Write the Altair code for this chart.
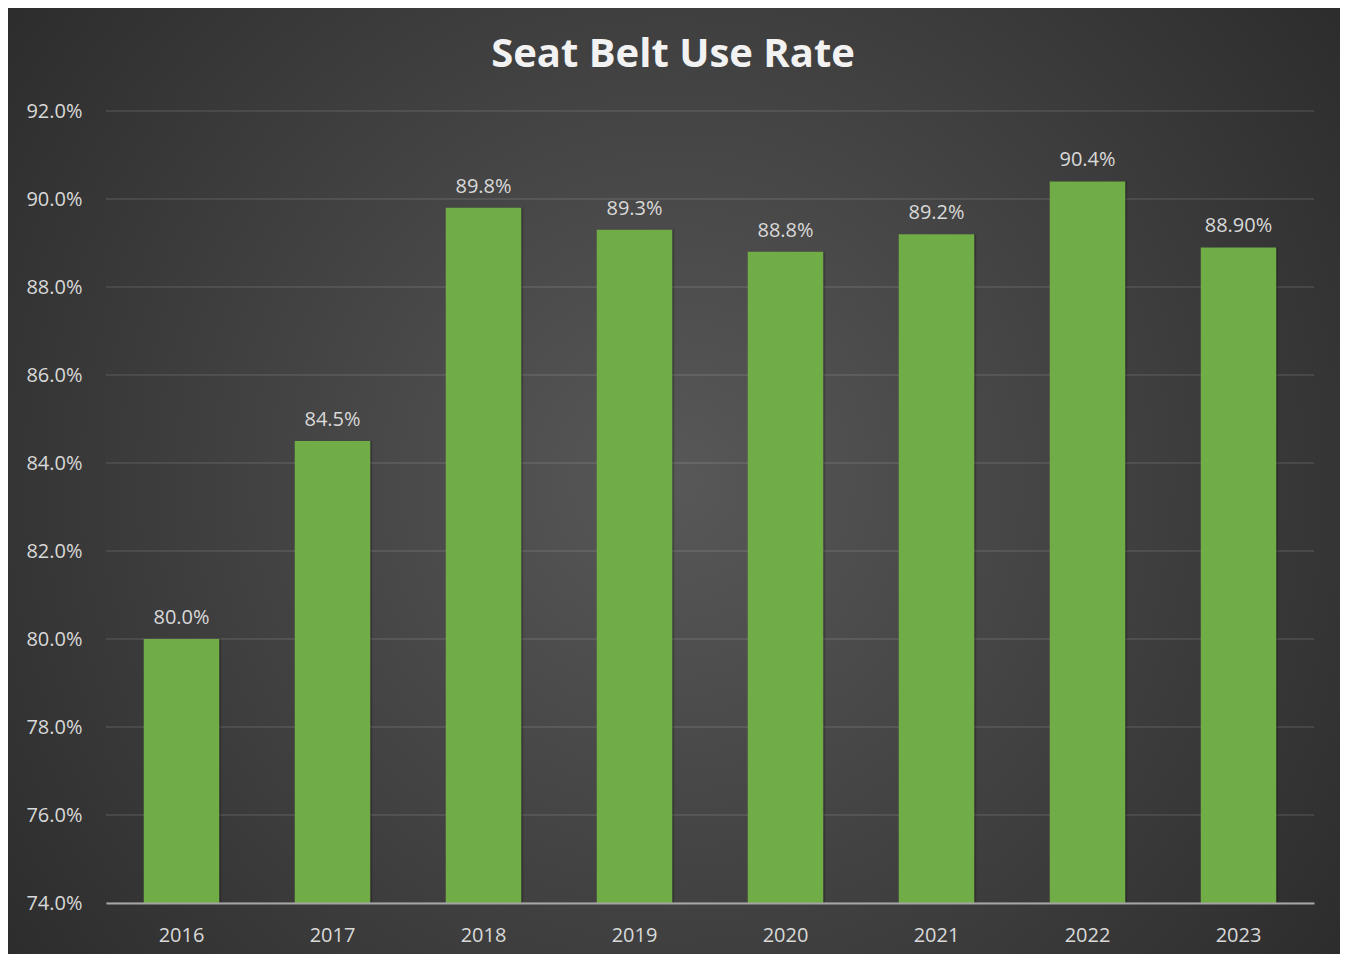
import altair as alt
import pandas as pd

years = ["2016", "2017", "2018", "2019", "2020", "2021", "2022", "2023"]
rates = [80.0, 84.5, 89.8, 89.3, 88.8, 89.2, 90.4, 88.9]
rate_labels = ["80.0%", "84.5%", "89.8%", "89.3%", "88.8%", "89.2%", "90.4%", "88.90%"]
y_ticks = [74, 76, 78, 80, 82, 84, 86, 88, 90, 92]
y_min, y_max = 74, 92
title_text = "Seat Belt Use Rate"

W, H = 1208, 792
PAD = {"left": 98, "top": 103, "right": 26, "bottom": 51}

df = pd.DataFrame({"year": years, "rate": rates, "label": rate_labels, "base": [y_min] * len(years)})
grid_df = pd.DataFrame({"tick": y_ticks})

FONT = "Open Sans"
TXT = "#d9d9d9"

x_scale = alt.Scale(domain=years, paddingInner=0.5, paddingOuter=0.25)
y_scale = alt.Scale(domain=[y_min, y_max], zero=False, nice=False)

x_enc = alt.X("year:N", sort=years, title=None, scale=x_scale,
              axis=alt.Axis(labelAngle=0, labelFontSize=20, labelColor=TXT, labelFont=FONT,
                            labelPadding=22, ticks=False, domainColor="#a6a6a6", domainWidth=2,
                            grid=False, zindex=1))
y_enc = alt.Y("rate:Q", scale=y_scale, title=None,
              axis=alt.Axis(values=y_ticks, labelExpr="format(datum.value, '.1f') + '%'",
                            labelFontSize=20, labelColor=TXT, labelFont=FONT, labelPadding=24,
                            ticks=False, domain=False, grid=False, zindex=1))

bg = alt.Chart(alt.Data(values=[{"k": 1}])).mark_rect(
    fill=alt.RadialGradient(
        gradient="radial", x1=0.5, y1=0.5, r1=0, x2=0.5, y2=0.5, r2=0.72,
        stops=[alt.GradientStop(offset=0, color="#585858"),
               alt.GradientStop(offset=1, color="#252525")]),
    clip=False
).encode(
    x=alt.value(-PAD["left"]), x2=alt.value(W + PAD["right"]),
    y=alt.value(-PAD["top"]), y2=alt.value(H + PAD["bottom"])
)

grid = alt.Chart(grid_df).mark_rule(color="#ffffff", opacity=0.12, strokeWidth=1.5).encode(
    y=alt.Y("tick:Q", scale=y_scale),
    x=alt.value(0), x2=alt.value(W)
)

title = alt.Chart(alt.Data(values=[{"t": title_text}])).mark_text(
    font=FONT, fontSize=40, fontWeight="bold", color="#f2f2f2", align="center",
    baseline="alphabetic"
).encode(text="t:N", x=alt.value(567), y=alt.value(-44))

base = alt.Chart(df)

shadow = base.mark_bar(color="#000000", opacity=0.2, xOffset=2).encode(
    x=x_enc, y=y_enc, y2="base:Q")

bars = base.mark_bar(color="#70ad47").encode(x=x_enc, y=y_enc, y2="base:Q")

labels = base.mark_text(baseline="bottom", dy=-11, fontSize=20, font=FONT, color=TXT).encode(
    x=alt.X("year:N", sort=years, scale=x_scale), y=alt.Y("rate:Q", scale=y_scale), text="label:N")

chart = alt.layer(bg, grid, shadow, bars, labels, title).properties(
    width=W, height=H,
    autosize=alt.AutoSizeParams(type="none"),
    padding=PAD,
    background="#2e2e2e",
).configure_view(stroke=None)

chart.save("out.html", embed_options={"renderer": "svg", "actions": False})
